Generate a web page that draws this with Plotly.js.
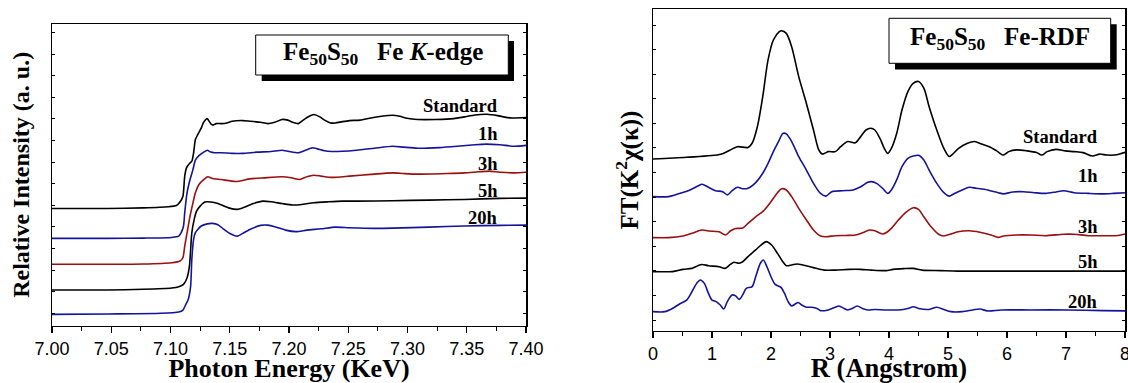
<!DOCTYPE html>
<html>
<head>
<meta charset="utf-8">
<script src="https://cdn.plot.ly/plotly-3.0.1.min.js"></script>
<style>html,body{margin:0;padding:0;background:#fff;}#chart{width:1128px;height:383px;}</style>
</head>
<body>
<div id="chart"></div>
<script>
// ---------- Fe K-edge XANES (left panel): [photon energy KeV, relative intensity incl. offset] ----------
const xanesStandard = [[7.000,4.85],[7.047,4.85],[7.077,4.88],[7.098,4.93],[7.105,4.99],[7.108,5.15],[7.1105,5.42],[7.112,6.35],[7.1135,6.73],[7.116,6.93],[7.118,7.04],[7.1195,7.43],[7.121,8.04],[7.123,8.27],[7.126,8.58],[7.128,8.84],[7.131,9.01],[7.132,8.94],[7.1345,8.74],[7.136,8.71],[7.1385,8.78],[7.143,8.78],[7.1475,8.81],[7.152,8.89],[7.161,8.92],[7.167,8.89],[7.176,8.84],[7.182,8.78],[7.188,8.84],[7.194,8.97],[7.199,8.94],[7.203,8.84],[7.208,8.78],[7.212,8.94],[7.217,9.12],[7.221,9.20],[7.226,9.09],[7.230,8.94],[7.235,8.81],[7.239,8.81],[7.245,8.87],[7.251,8.92],[7.260,8.94],[7.269,9.04],[7.278,9.12],[7.2875,9.17],[7.2935,9.12],[7.2995,9.03],[7.3085,8.97],[7.324,8.97],[7.339,9.01],[7.348,9.09],[7.357,9.18],[7.367,9.21],[7.376,9.15],[7.382,9.08],[7.388,9.04],[7.400,9.06]];
const xanes1h = [[7.000,3.47],[7.047,3.47],[7.077,3.48],[7.101,3.51],[7.107,3.57],[7.109,3.73],[7.111,4.04],[7.112,4.65],[7.114,5.58],[7.1165,6.19],[7.119,6.66],[7.121,7.09],[7.124,7.30],[7.128,7.46],[7.131,7.55],[7.134,7.46],[7.137,7.43],[7.143,7.43],[7.152,7.40],[7.161,7.40],[7.173,7.46],[7.185,7.49],[7.194,7.55],[7.200,7.49],[7.208,7.43],[7.214,7.55],[7.220,7.66],[7.224,7.61],[7.230,7.52],[7.236,7.49],[7.245,7.50],[7.257,7.55],[7.272,7.64],[7.2875,7.73],[7.2965,7.69],[7.3085,7.64],[7.327,7.67],[7.342,7.73],[7.357,7.80],[7.366,7.83],[7.378,7.80],[7.390,7.73],[7.400,7.77]];
const xanes3h = [[7.000,2.27],[7.047,2.27],[7.077,2.28],[7.101,2.34],[7.108,2.42],[7.1105,2.57],[7.112,3.11],[7.114,3.73],[7.1165,4.50],[7.119,5.12],[7.121,5.58],[7.124,5.96],[7.128,6.19],[7.1315,6.32],[7.1355,6.24],[7.143,6.19],[7.155,6.10],[7.167,6.22],[7.179,6.27],[7.194,6.32],[7.202,6.27],[7.209,6.19],[7.215,6.32],[7.221,6.39],[7.227,6.35],[7.236,6.29],[7.251,6.35],[7.269,6.43],[7.2875,6.50],[7.2965,6.47],[7.3085,6.44],[7.333,6.47],[7.348,6.50],[7.360,6.55],[7.369,6.58],[7.378,6.53],[7.390,6.50],[7.400,6.53]];
const xanes5h = [[7.000,1.08],[7.047,1.08],[7.077,1.11],[7.101,1.17],[7.107,1.23],[7.111,1.34],[7.114,1.65],[7.116,2.19],[7.118,3.73],[7.120,4.35],[7.122,4.73],[7.125,4.96],[7.129,5.15],[7.134,5.15],[7.140,5.08],[7.149,4.88],[7.1565,4.81],[7.161,4.88],[7.170,5.08],[7.178,5.19],[7.185,5.16],[7.194,5.08],[7.203,5.01],[7.212,5.05],[7.221,5.12],[7.233,5.16],[7.245,5.19],[7.257,5.19],[7.2875,5.21],[7.318,5.24],[7.348,5.27],[7.378,5.32],[7.400,5.33]];
const xanes20h = [[7.000,-0.05],[7.047,-0.03],[7.092,0.00],[7.107,0.06],[7.1105,0.15],[7.113,0.42],[7.115,0.65],[7.117,1.26],[7.118,2.50],[7.1195,3.42],[7.121,3.73],[7.123,3.88],[7.126,4.04],[7.131,4.14],[7.1355,4.16],[7.140,4.10],[7.1445,3.91],[7.1505,3.68],[7.1565,3.57],[7.161,3.70],[7.167,3.88],[7.176,4.07],[7.182,4.08],[7.188,4.01],[7.197,3.85],[7.206,3.78],[7.215,3.85],[7.227,3.91],[7.239,3.99],[7.251,3.96],[7.272,3.93],[7.2875,3.94],[7.318,3.99],[7.348,4.04],[7.378,4.07],[7.400,4.08]];

// ---------- Fe-RDF (right panel): [R Angstrom, FT(k^2 chi) incl. offset] ----------
const rdfStandard = [[0,6.55],[0.57,6.62],[1.15,6.74],[1.31,6.92],[1.43,7.05],[1.61,7.02],[1.68,7.19],[1.77,7.87],[1.86,9.09],[1.95,10.58],[2.04,11.39],[2.14,11.73],[2.18,11.77],[2.26,11.66],[2.35,11.12],[2.47,9.90],[2.60,8.81],[2.72,7.73],[2.81,6.92],[2.87,6.75],[2.97,6.85],[3.09,6.85],[3.18,7.05],[3.30,7.26],[3.43,7.21],[3.52,7.46],[3.61,7.73],[3.69,7.80],[3.76,7.73],[3.86,7.32],[3.92,6.98],[3.98,6.78],[4.04,6.98],[4.13,7.59],[4.22,8.54],[4.32,9.29],[4.41,9.63],[4.50,9.70],[4.59,9.43],[4.68,8.68],[4.81,7.73],[4.93,6.98],[5.02,6.65],[5.08,6.75],[5.18,6.98],[5.33,7.19],[5.45,7.26],[5.57,7.16],[5.70,7.05],[5.82,6.89],[5.94,6.71],[6.03,6.85],[6.16,6.92],[6.34,6.88],[6.50,6.81],[6.59,6.71],[6.68,6.85],[6.83,6.94],[6.99,6.88],[7.14,6.85],[7.29,6.81],[7.45,6.67],[7.57,6.75],[7.69,6.71],[7.82,6.71],[7.91,6.75],[8.0,6.82]];
const rdf1h = [[0,5.02],[0.26,5.02],[0.45,5.15],[0.63,5.29],[0.76,5.45],[0.83,5.52],[0.94,5.40],[1.06,5.26],[1.18,5.22],[1.26,5.09],[1.34,5.26],[1.43,5.40],[1.52,5.34],[1.61,5.36],[1.74,5.59],[1.86,5.97],[1.95,6.37],[2.04,6.85],[2.14,7.32],[2.20,7.59],[2.26,7.57],[2.35,7.26],[2.47,6.65],[2.60,6.10],[2.72,5.56],[2.84,5.15],[2.93,5.04],[3.03,5.22],[3.21,5.26],[3.39,5.29],[3.52,5.42],[3.64,5.60],[3.70,5.63],[3.79,5.56],[3.89,5.36],[3.98,5.15],[4.04,5.29],[4.13,5.70],[4.22,6.24],[4.32,6.58],[4.41,6.67],[4.50,6.70],[4.59,6.51],[4.68,6.10],[4.81,5.56],[4.93,5.18],[5.02,5.04],[5.11,5.15],[5.24,5.29],[5.36,5.40],[5.48,5.36],[5.67,5.29],[5.85,5.18],[5.94,5.13],[6.10,5.21],[6.28,5.22],[6.46,5.18],[6.65,5.15],[6.83,5.21],[6.96,5.26],[7.14,5.18],[7.38,5.15],[7.63,5.13],[7.81,5.15],[8.0,5.18]];
const rdf3h = [[0,3.35],[0.26,3.35],[0.51,3.42],[0.66,3.53],[0.83,3.66],[0.94,3.62],[1.12,3.59],[1.23,3.46],[1.31,3.62],[1.40,3.72],[1.52,3.74],[1.61,3.93],[1.74,4.20],[1.86,4.41],[1.98,4.75],[2.11,5.18],[2.18,5.34],[2.26,5.29],[2.35,5.02],[2.47,4.54],[2.60,4.07],[2.72,3.66],[2.84,3.42],[2.93,3.39],[3.09,3.43],[3.27,3.44],[3.43,3.46],[3.55,3.55],[3.67,3.66],[3.76,3.63],[3.89,3.50],[3.95,3.55],[4.04,3.73],[4.16,4.07],[4.28,4.37],[4.41,4.57],[4.50,4.50],[4.59,4.20],[4.71,3.80],[4.84,3.49],[4.93,3.42],[5.05,3.50],[5.17,3.59],[5.36,3.63],[5.54,3.57],[5.73,3.46],[5.85,3.36],[5.94,3.42],[6.16,3.46],[6.40,3.46],[6.65,3.43],[6.96,3.49],[7.14,3.49],[7.38,3.43],[7.69,3.43],[7.88,3.44],[8.0,3.50]];
const rdf5h = [[0,1.97],[0.33,1.97],[0.51,2.06],[0.66,2.10],[0.76,2.21],[0.83,2.26],[0.94,2.21],[1.12,2.17],[1.22,2.10],[1.31,2.26],[1.37,2.35],[1.46,2.31],[1.52,2.37],[1.61,2.58],[1.74,2.85],[1.83,3.05],[1.92,3.19],[2.01,3.05],[2.11,2.71],[2.20,2.37],[2.26,2.21],[2.35,2.24],[2.44,2.28],[2.54,2.24],[2.72,2.13],[2.90,2.03],[3.09,2.03],[3.33,2.06],[3.52,2.06],[3.70,2.03],[3.95,2.01],[4.07,2.06],[4.25,2.09],[4.41,2.10],[4.56,2.03],[4.87,2.01],[5.17,1.99],[5.79,1.99],[6.40,1.99],[7.02,1.99],[8.0,1.99]];
const rdf20h = [[0,0.34],[0.20,0.34],[0.33,0.47],[0.45,0.65],[0.57,0.81],[0.66,1.15],[0.74,1.49],[0.80,1.63],[0.87,1.49],[0.94,1.08],[1.00,0.81],[1.07,0.75],[1.14,0.61],[1.20,0.45],[1.26,0.75],[1.34,1.02],[1.40,0.98],[1.46,0.84],[1.52,1.02],[1.58,1.29],[1.68,1.36],[1.74,1.76],[1.82,2.31],[1.87,2.44],[1.93,2.17],[2.00,1.76],[2.07,1.45],[2.17,1.33],[2.23,1.08],[2.29,0.75],[2.35,0.57],[2.41,0.65],[2.46,0.71],[2.52,0.61],[2.60,0.52],[2.69,0.52],[2.78,0.47],[2.84,0.38],[2.97,0.41],[3.09,0.52],[3.15,0.57],[3.24,0.47],[3.30,0.41],[3.38,0.47],[3.46,0.57],[3.55,0.47],[3.64,0.41],[3.76,0.43],[3.95,0.41],[4.16,0.41],[4.32,0.47],[4.41,0.54],[4.50,0.47],[4.68,0.43],[4.81,0.52],[4.93,0.43],[5.05,0.34],[5.24,0.34],[5.42,0.41],[5.54,0.45],[5.67,0.37],[5.91,0.41],[6.40,0.41],[7.02,0.41],[7.63,0.38],[8.0,0.37]];

// ---------- series names, colours, label positions ----------
const seriesNames = ['Standard', '1h', '3h', '5h', '20h'];
const seriesColors = ['#000000', '#14149a', '#9a0f0f', '#000000', '#14149a'];
const xanesLabelY = [9.60, 8.30, 6.91, 5.66, 4.41];
const rdfLabelY = [7.44, 5.87, 3.80, 2.36, 0.74];
const xanesTicks = [7.00, 7.05, 7.10, 7.15, 7.20, 7.25, 7.30, 7.35, 7.40];
const xanesTickText = ['7.00', '7.05', '7.10', '7.15', '7.20', '7.25', '7.30', '7.35', '7.40'];
const rdfTicks = [0, 1, 2, 3, 4, 5, 6, 7, 8];

const xanesSets = [xanesStandard, xanes1h, xanes3h, xanes5h, xanes20h];
const rdfSets = [rdfStandard, rdf1h, rdf3h, rdf5h, rdf20h];

const traces = [];
xanesSets.forEach((s, i) => traces.push({
  x: s.map(p => p[0]), y: s.map(p => p[1]), type: 'scatter', mode: 'lines',
  xaxis: 'x', yaxis: 'y', name: seriesNames[i],
  line: {color: seriesColors[i], width: 1.6, shape: 'spline', smoothing: 0.6}
}));
rdfSets.forEach((s, i) => traces.push({
  x: s.map(p => p[0]), y: s.map(p => p[1]), type: 'scatter', mode: 'lines',
  xaxis: 'x2', yaxis: 'y2', name: seriesNames[i],
  line: {color: seriesColors[i], width: 1.6, shape: 'spline', smoothing: 0.8}
}));

const serif = 'Liberation Serif, Times New Roman, serif';
const sans = 'Liberation Sans, Arial, sans-serif';
const W = 1128, H = 383;
const px = v => v / W, py = v => 1 - v / H;

const annotations = [];
seriesNames.forEach((n, i) => {
  annotations.push({xref: 'x', yref: 'y', x: 7.378, y: xanesLabelY[i], text: '<b>' + n + '</b>',
    showarrow: false, xanchor: 'right', yanchor: 'middle', font: {family: serif, size: 18.5, color: '#000'}});
  annotations.push({xref: 'x2', yref: 'y2', x: 7.57, y: rdfLabelY[i], text: '<b>' + n + '</b>',
    showarrow: false, xanchor: 'right', yanchor: 'middle', font: {family: serif, size: 18.5, color: '#000'}});
});
annotations.push({xref: 'paper', yref: 'paper', x: px(383), y: py(53), xanchor: 'center', yanchor: 'middle',
  showarrow: false, text: '<b>Fe<sub>50</sub>S<sub>50</sub>\u00a0\u00a0\u00a0Fe <i>K</i>-edge</b>',
  font: {family: serif, size: 25, color: '#000'}});
annotations.push({xref: 'paper', yref: 'paper', x: px(1000), y: py(39), xanchor: 'center', yanchor: 'middle',
  showarrow: false, text: '<b>Fe<sub>50</sub>S<sub>50</sub>\u00a0\u00a0\u00a0Fe-RDF</b>',
  font: {family: serif, size: 25, color: '#000'}});

const shapes = [
  {type: 'rect', xref: 'paper', yref: 'paper', x0: px(261.7), x1: px(514), y0: py(81), y1: py(41), fillcolor: '#000', line: {width: 0}, layer: 'above'},
  {type: 'rect', xref: 'paper', yref: 'paper', x0: px(255.7), x1: px(508.3), y0: py(75), y1: py(35), fillcolor: '#fff', line: {color: '#000', width: 1}, layer: 'above'},
  {type: 'rect', xref: 'paper', yref: 'paper', x0: px(895), x1: px(1116.7), y0: py(69.5), y1: py(24.3), fillcolor: '#000', line: {width: 0}, layer: 'above'},
  {type: 'rect', xref: 'paper', yref: 'paper', x0: px(889), x1: px(1110.7), y0: py(63.3), y1: py(18.3), fillcolor: '#fff', line: {color: '#000', width: 1}, layer: 'above'}
];

const xCommon = {showgrid: false, zeroline: false, showline: true, linecolor: '#000', linewidth: 1.5, mirror: true,
  ticks: 'outside', ticklen: 6, tickwidth: 1.2, tickcolor: '#000', automargin: false, ticklabeloverflow: 'allow',
  tickfont: {family: sans, size: 18, color: '#000'}};
const yCommon = {showgrid: false, zeroline: false, showline: true, linecolor: '#000', linewidth: 1.5, mirror: 'ticks',
  ticks: 'inside', ticklen: 3, tickwidth: 1, tickcolor: '#000', showticklabels: false, automargin: false,
  tick0: 0, dtick: 1};

const layout = {
  width: W, height: H, margin: {l: 0, r: 0, t: 0, b: 0},
  paper_bgcolor: '#fff', plot_bgcolor: '#fff', showlegend: false,
  xaxis: Object.assign({}, xCommon, {domain: [px(52), px(526)], range: [7.0, 7.4], anchor: 'y',
    tickmode: 'array', tickvals: xanesTicks, ticktext: xanesTickText,
    minor: {dtick: 0.025, tick0: 7.0, ticks: 'outside', ticklen: 3.5, tickcolor: '#000', showgrid: false},
    title: {text: '<b>Photon Energy (KeV)</b>', standoff: 7, font: {family: serif, size: 26, color: '#000'}}}),
  yaxis: Object.assign({}, yCommon, {domain: [py(325.7), py(24)], range: [-0.574, 13.39], anchor: 'x',
    title: {text: '<b>Relative Intensity (a. u.)</b>', standoff: 14, font: {family: serif, size: 24, color: '#000'}}}),
  xaxis2: Object.assign({}, xCommon, {domain: [px(653), px(1125)], range: [0, 8], anchor: 'y2',
    tickmode: 'array', tickvals: rdfTicks,
    minor: {dtick: 0.5, tick0: 0, ticks: 'outside', ticklen: 3.5, tickcolor: '#000', showgrid: false},
    title: {text: '<b>R (Angstrom)</b>', standoff: 3, font: {family: serif, size: 26.5, color: '#000'}}}),
  yaxis2: Object.assign({}, yCommon, {domain: [py(330.7), py(9.3)], range: [-0.435, 12.64], anchor: 'x2',
    title: {text: '<b>FT(K<sup>2</sup>χ(κ))</b>', standoff: 6, font: {family: serif, size: 25, color: '#000'}}}),
  annotations: annotations,
  shapes: shapes
};

Plotly.newPlot('chart', traces, layout, {staticPlot: true, displayModeBar: false});
</script>
</body>
</html>
